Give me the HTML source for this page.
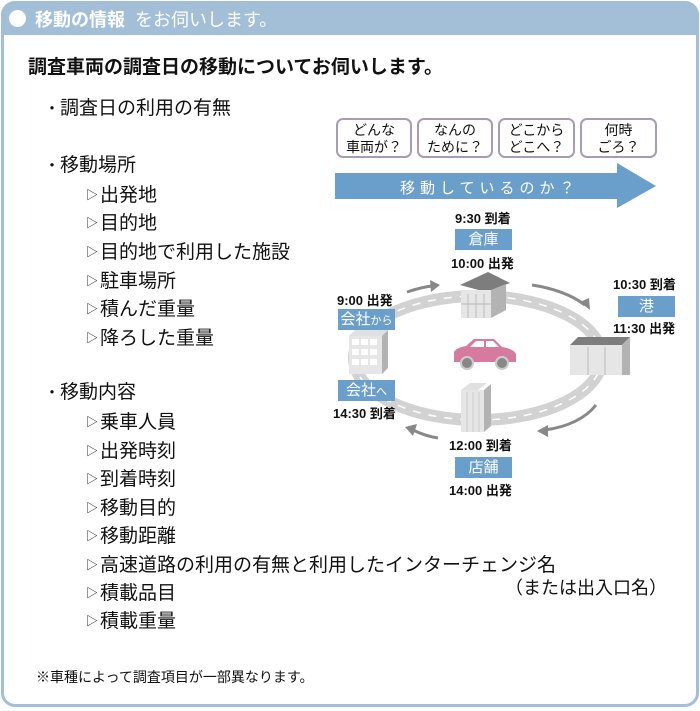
<!DOCTYPE html>
<html><head><meta charset="utf-8"><style>
body{margin:0;width:700px;height:711px;background:#fff;position:relative;overflow:hidden;font-family:"Liberation Sans","Noto Sans CJK JP",sans-serif;color:#111}
.frame{position:absolute;left:1px;top:1px;width:692px;height:700px;border:3px solid #a3bfd7;border-radius:14px}
.hdr{position:absolute;left:1px;top:1px;width:698px;height:34px;background:#a3bfd7;border-radius:14px 14px 0 0}
.t{position:absolute;white-space:nowrap}
.li{font-size:19px;line-height:22px}
.bu{display:inline-block;width:16px;font-size:16px}
.tr{font-size:12px;display:inline-block;width:14px;vertical-align:2px}
.box{position:absolute;top:118px;height:40px;border:2px solid #a89bb5;border-radius:7px;font-size:14px;line-height:17px;text-align:center;padding-top:2px;box-sizing:border-box;background:#fff}
.lbl{position:absolute;background:#6b9fcb;color:#fff;font-size:15px;text-align:center;height:21px;line-height:21px}
.tm{position:absolute;font-size:13px;font-weight:bold;white-space:nowrap}
</style></head><body>
<div class="hdr"></div>
<div class="frame"></div>
<div style="position:absolute;left:9px;top:10px;width:17px;height:17px;border-radius:50%;background:#fff"></div>
<div class="t" style="left:35px;top:6px;color:#fff;font-size:18px;"><b>移動の情報</b>&nbsp;&nbsp;をお伺いします。</div>
<div class="t" style="left:28px;top:52px;font-size:19px;font-weight:bold">調査車両の調査日の移動についてお伺いします。</div>
<div class="t li" style="left:44px;top:98px"><span class="bu">・</span>調査日の利用の有無</div>
<div class="t li" style="left:44px;top:155px"><span class="bu">・</span>移動場所</div>
<div class="t li" style="left:86px;top:184px"><span class="tr">▷</span>出発地</div>
<div class="t li" style="left:86px;top:212px"><span class="tr">▷</span>目的地</div>
<div class="t li" style="left:86px;top:241px"><span class="tr">▷</span>目的地で利用した施設</div>
<div class="t li" style="left:86px;top:270px"><span class="tr">▷</span>駐車場所</div>
<div class="t li" style="left:86px;top:298px"><span class="tr">▷</span>積んだ重量</div>
<div class="t li" style="left:86px;top:327px"><span class="tr">▷</span>降ろした重量</div>
<div class="t li" style="left:44px;top:382px"><span class="bu">・</span>移動内容</div>
<div class="t li" style="left:86px;top:411px"><span class="tr">▷</span>乗車人員</div>
<div class="t li" style="left:86px;top:440px"><span class="tr">▷</span>出発時刻</div>
<div class="t li" style="left:86px;top:468px"><span class="tr">▷</span>到着時刻</div>
<div class="t li" style="left:86px;top:497px"><span class="tr">▷</span>移動目的</div>
<div class="t li" style="left:86px;top:525px"><span class="tr">▷</span>移動距離</div>
<div class="t li" style="left:86px;top:554px"><span class="tr">▷</span>高速道路の利用の有無と利用したインターチェンジ名</div>
<div class="t li" style="left:505px;top:577px;font-size:18px">（または出入口名）</div>
<div class="t li" style="left:86px;top:582px"><span class="tr">▷</span>積載品目</div>
<div class="t li" style="left:86px;top:610px"><span class="tr">▷</span>積載重量</div>
<div class="t" style="left:36px;top:667px;font-size:14px">※車種によって調査項目が一部異なります。</div>

<div class="box" style="left:336px;width:76px">どんな<br>車両が？</div>
<div class="box" style="left:417px;width:76px">なんの<br>ために？</div>
<div class="box" style="left:498px;width:77px">どこから<br>どこへ？</div>
<div class="box" style="left:580px;width:77px">何時<br>ごろ？</div>

<svg style="position:absolute;left:0;top:0" width="700" height="711">
<polygon points="335,173 617,173 617,163 656,186 617,208 617,199 335,199" fill="#6b9fcb"/>
<ellipse cx="478" cy="358" rx="124" ry="62" fill="none" stroke="#d2d2d2" stroke-width="12"/>
<ellipse cx="478" cy="358" rx="124" ry="62" fill="none" stroke="#fff" stroke-width="1.5" stroke-dasharray="8 8"/>
<g fill="none" stroke="#888" stroke-width="3">
<path d="M407,292 Q422,287 432,286"/><path d="M532,285 Q565,290 585,305"/>
<path d="M596,405 Q580,425 545,430"/><path d="M438,438 Q425,436 413,430"/>
</g>
<g fill="#888">
<polygon points="440,285 430,280 431,292"/><polygon points="590,310 580,302 589,298"/>
<polygon points="537,431 548,425 548,437"/><polygon points="405,427 417,424 413,436"/>
</g>
<polygon points="460,285 488,272 510,283 486,292" fill="#7d7d7d"/>
<rect x="461" y="290" width="30" height="28" fill="#e6e6e6"/>
<polygon points="491,290 506,284 506,310 491,318" fill="#b3b3b3"/>
<g stroke="#bbb" stroke-width="1"><line x1="468" y1="294" x2="468" y2="318"/><line x1="476" y1="294" x2="476" y2="318"/><line x1="484" y1="294" x2="484" y2="318"/><line x1="461" y1="304" x2="491" y2="304"/></g>
<polygon points="570,345 578,337 630,337 622,345" fill="#7d7d7d"/>
<rect x="570" y="345" width="52" height="30" fill="#e6e6e6"/>
<polygon points="622,345 630,337 630,375 622,375" fill="#b3b3b3"/>
<g stroke="#bbb"><line x1="588" y1="347" x2="588" y2="375"/><line x1="605" y1="347" x2="605" y2="375"/></g>
<polygon points="349,336 382,336 388,330 355,330" fill="#e0e0e0"/>
<rect x="349" y="336" width="33" height="38" fill="#e6e6e6"/>
<polygon points="382,336 388,330 388,368 382,374" fill="#b3b3b3"/>
<g fill="#fff"><rect x="352" y="339" width="7" height="6"/><rect x="361" y="339" width="7" height="6"/><rect x="370" y="339" width="7" height="6"/><rect x="352" y="349" width="7" height="6"/><rect x="361" y="349" width="7" height="6"/><rect x="370" y="349" width="7" height="6"/><rect x="352" y="359" width="7" height="6"/><rect x="361" y="359" width="7" height="6"/><rect x="370" y="359" width="7" height="6"/></g>
<polygon points="461,390 478,390 487,383 470,383" fill="#e0e0e0"/>
<rect x="461" y="390" width="23" height="42" fill="#e6e6e6"/>
<polygon points="484,390 491,384 491,426 484,432" fill="#b3b3b3"/>
<g stroke="#ccc"><line x1="467" y1="392" x2="467" y2="432"/><line x1="473" y1="392" x2="473" y2="432"/><line x1="479" y1="392" x2="479" y2="432"/></g>
<path d="M454,362 L454,352 Q456,348 466,346 L474,339 L494,339 L502,347 Q514,349 516,354 L516,362 Z" fill="#d77a9f"/>
<polygon points="476,341 484,341 484,347 470,347" fill="#fff"/><polygon points="486,341 493,341 499,347 486,347" fill="#fff"/>
<circle cx="467" cy="363" r="6" fill="#888" stroke="#ccc" stroke-width="2"/><circle cx="502" cy="363" r="6" fill="#888" stroke="#ccc" stroke-width="2"/>
</svg>
<div class="t" style="left:400px;top:177px;color:#fff;font-size:15px;letter-spacing:5px">移動しているのか？</div>

<div class="tm" style="left:455px;top:208px">9:30 到着</div>
<div class="lbl" style="left:455px;top:229px;width:57px">倉庫</div>
<div class="tm" style="left:451px;top:253px">10:00 出発</div>
<div class="tm" style="left:613px;top:274px">10:30 到着</div>
<div class="lbl" style="left:618px;top:296px;width:57px">港</div>
<div class="tm" style="left:613px;top:318px">11:30 出発</div>
<div class="tm" style="left:337px;top:290px">9:00 出発</div>
<div class="lbl" style="left:338px;top:309px;width:57px">会社<span style="font-size:11px">から</span></div>
<div class="lbl" style="left:338px;top:380px;width:57px">会社<span style="font-size:11px">へ</span></div>
<div class="tm" style="left:333px;top:403px">14:30 到着</div>
<div class="tm" style="left:449px;top:435px">12:00 到着</div>
<div class="lbl" style="left:455px;top:457px;width:57px">店舗</div>
<div class="tm" style="left:449px;top:480px">14:00 出発</div>
</body></html>
